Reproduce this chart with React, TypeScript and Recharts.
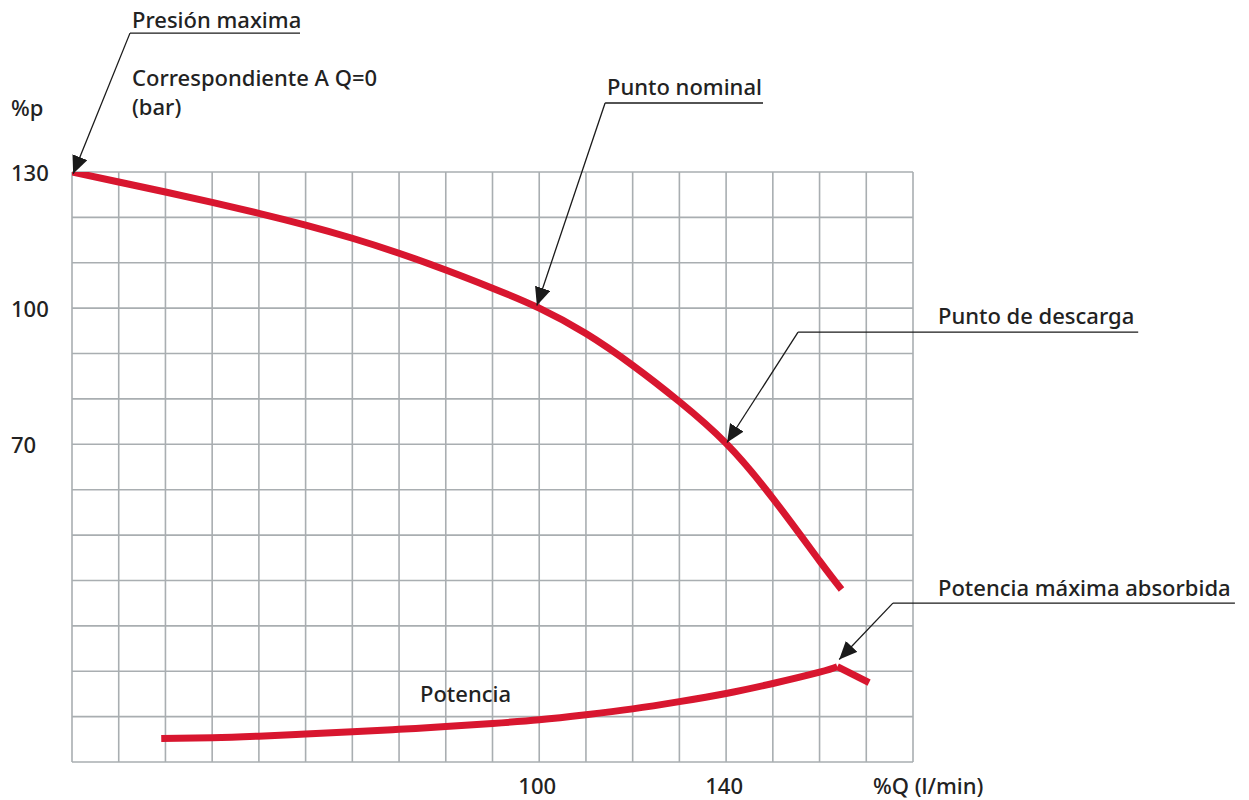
import React from 'react';
import { LineChart, Line, XAxis, YAxis, CartesianGrid, ReferenceLine } from 'recharts';

// Pressure curve (%p vs %Q)
const pressureQ = [0, 10, 20, 30, 40, 50, 60, 70, 80, 90, 100, 110, 120, 130, 140, 150, 160, 164.7];
const pressureP = [130, 127.8, 125.6, 123.3, 120.9, 118.3, 115.4, 112.1, 108.4, 104.4, 100, 94.4, 87.4, 79.4, 70.2, 58.1, 44.3, 38.0];

// Power curve (rising part, then drop after maximum)
const powerQ = [19.1, 30, 40, 50, 60, 70, 80, 90, 100, 110, 120, 130, 140, 150, 160, 163.8];
const powerP = [5.2, 5.35, 5.7, 6.15, 6.65, 7.2, 7.8, 8.5, 9.3, 10.4, 11.7, 13.3, 15.1, 17.3, 19.8, 21.0];
const powerDropQ = [163.8, 170.6];
const powerDropP = [21.0, 17.5];

const xTicks = [0, 10, 20, 30, 40, 50, 60, 70, 80, 90, 100, 110, 120, 130, 140, 150, 160, 170, 180];
const yTicks = [0, 10, 20, 30, 40, 50, 60, 70, 80, 90, 100, 110, 120, 130];
const xLabelTicks = [100, 140];
const yLabelTicks = [70, 100, 130];

const pressureData = pressureQ.map((q, i) => ({ q, p: pressureP[i] }));
const powerData = powerQ.map((q, i) => ({ q, p: powerP[i] }));
const powerDropData = powerDropQ.map((q, i) => ({ q, p: powerDropP[i] }));

const RED = '#d8162f';
const GRID = '#a9aeb1';
const TEXT = '#222222';
const FONT = '"Noto Sans", "Open Sans", sans-serif';
const FS = 22;

const W = 1249;
const H = 800;
const M = { left: 0, right: 336, top: 172, bottom: 0 };

const YTick = (props: any) => {
  const { y, payload } = props;
  if (!yLabelTicks.includes(payload.value)) return <g />;
  return (
    <text x={11} y={y + 9} textAnchor="start" fontSize={FS} fontWeight={500} fill={TEXT} fontFamily={FONT}>
      {payload.value}
    </text>
  );
};

const XTick = (props: any) => {
  const { x, payload } = props;
  if (!xLabelTicks.includes(payload.value)) return <g />;
  return (
    <text x={x - 2} y={794} textAnchor="middle" fontSize={FS} fontWeight={500} fill={TEXT} fontFamily={FONT}>
      {payload.value}
    </text>
  );
};

const leaders = [
  { under: [{ x: 12.41, y: 160.6 }, { x: 48.8, y: 160.6 }], arrow: [{ x: 12.41, y: 160.6 }, { x: 0.25, y: 129.6 }] },
  { under: [{ x: 114.1, y: 145.2 }, { x: 147.9, y: 145.2 }], arrow: [{ x: 114.1, y: 145.2 }, { x: 99.5, y: 100.6 }] },
  { under: [{ x: 155.4, y: 94.7 }, { x: 228.2, y: 94.7 }], arrow: [{ x: 155.4, y: 94.7 }, { x: 140.2, y: 70.4 }] },
  { under: [{ x: 175.7, y: 35.0 }, { x: 248.9, y: 35.0 }], arrow: [{ x: 175.7, y: 35.0 }, { x: 164.2, y: 22.6 }] },
];

const texts = [
  { t: 'Presión maxima', x: 132, y: 28 },
  { t: 'Correspondiente A Q=0', x: 132, y: 86 },
  { t: '(bar)', x: 132, y: 115 },
  { t: '%p', x: 11, y: 116 },
  { t: 'Punto nominal', x: 607, y: 95 },
  { t: 'Punto de descarga', x: 938, y: 324 },
  { t: 'Potencia máxima absorbida', x: 938, y: 596 },
  { t: 'Potencia', x: 420, y: 702 },
  { t: '%Q (l/min)', x: 873, y: 794 },
];

export default function App() {
  return (
    <div style={{ position: 'absolute', left: 0, top: 0, width: W, height: H, background: '#fff' }}>
      <svg width={0} height={0} style={{ position: 'absolute' }}>
        <defs>
          <marker id="arrowHead" markerUnits="userSpaceOnUse" markerWidth={22} markerHeight={18} refX={18} refY={8} orient="auto">
            <path d="M0,0 L18,8 L0,16 Z" fill="#1a1a1a" />
          </marker>
        </defs>
      </svg>
      <LineChart width={W} height={H} margin={M}>
        <CartesianGrid stroke={GRID} strokeWidth={1.6} />
        <XAxis
          type="number"
          dataKey="q"
          domain={[0, 180]}
          ticks={xTicks}
          allowDataOverflow
          axisLine={false}
          tickLine={false}
          tick={<XTick />}
          interval={0}
          height={38}
        />
        <YAxis
          type="number"
          dataKey="p"
          domain={[0, 130]}
          ticks={yTicks}
          allowDataOverflow
          axisLine={false}
          tickLine={false}
          tick={<YTick />}
          interval={0}
          width={72}
        />
        <Line data={pressureData} dataKey="p" type="natural" stroke={RED} strokeWidth={7} dot={false} isAnimationActive={false} strokeLinecap="butt" />
        <Line data={powerData} dataKey="p" type="natural" stroke={RED} strokeWidth={7} dot={false} isAnimationActive={false} strokeLinecap="butt" />
        <Line data={powerDropData} dataKey="p" type="linear" stroke={RED} strokeWidth={7} dot={false} isAnimationActive={false} strokeLinecap="butt" />
        {leaders.map((l, i) => (
          <ReferenceLine key={'u' + i} segment={l.under} stroke="#1a1a1a" strokeWidth={1.3} ifOverflow="visible" />
        ))}
        {leaders.map((l, i) => (
          <ReferenceLine key={'a' + i} segment={l.arrow} stroke="#1a1a1a" strokeWidth={1.3} ifOverflow="visible" markerEnd="url(#arrowHead)" />
        ))}
      </LineChart>
      <svg width={W} height={H} style={{ position: 'absolute', left: 0, top: 0, pointerEvents: 'none' }}>
        {texts.map((t, i) => (
          <text key={i} x={t.x} y={t.y} fontSize={FS} fontWeight={500} fill={TEXT} fontFamily={FONT}>
            {t.t}
          </text>
        ))}
      </svg>
    </div>
  );
}
